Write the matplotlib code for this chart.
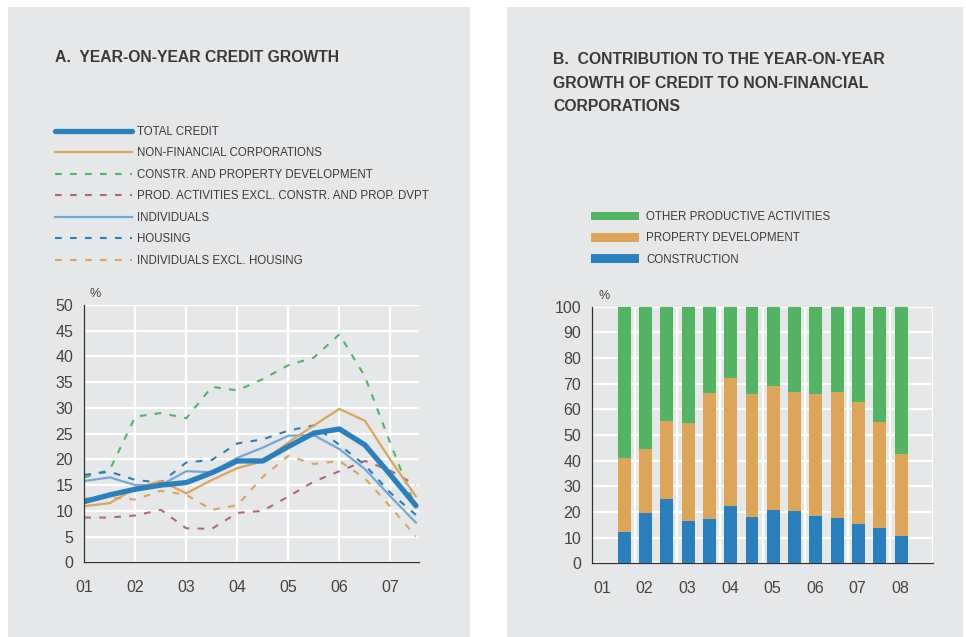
import matplotlib.pyplot as plt
from matplotlib.patches import Rectangle

# ---- data ----
# panel A: half-yearly observations, 2001 to mid 2007
periods_a = [2001.0, 2001.5, 2002.0, 2002.5, 2003.0, 2003.5, 2004.0,
             2004.5, 2005.0, 2005.5, 2006.0, 2006.5, 2007.0, 2007.5]
total_credit = [11.8, 13.1, 14.2, 15.0, 15.5, 17.4, 19.7, 19.7, 22.5, 25.1, 25.9, 22.8, 17.0, 11.0]
non_fin_corp = [10.9, 11.5, 14.4, 15.8, 13.4, 16.0, 18.3, 19.6, 23.3, 26.6, 29.8, 27.5, 19.9, 12.8]
constr_prop = [16.5, 18.0, 28.3, 29.0, 28.0, 34.1, 33.4, 35.6, 38.3, 39.8, 44.3, 36.1, 23.1, 10.5]
prod_activities = [8.7, 8.7, 9.1, 10.2, 6.6, 6.5, 9.6, 10.0, 12.8, 15.7, 17.7, 19.7, 17.8, 15.0]
individuals = [15.8, 16.5, 15.0, 15.0, 17.7, 17.5, 20.3, 22.3, 24.6, 24.7, 22.0, 18.1, 12.8, 7.7]
housing = [17.0, 17.6, 16.0, 15.5, 19.4, 19.9, 23.1, 23.9, 25.6, 26.6, 22.8, 18.9, 13.5, 9.2]
indiv_excl_housing = [12.4, 12.6, 12.2, 13.9, 13.1, 10.2, 11.1, 16.6, 20.7, 19.1, 19.7, 16.3, 10.8, 5.0]
ticks_a = ["01", "02", "03", "04", "05", "06", "07"]

# panel B: contributions (%), Dec 2001 to Jun 2008
periods_b = [2001.5, 2002.0, 2002.5, 2003.0, 2003.5, 2004.0, 2004.5,
             2005.0, 2005.5, 2006.0, 2006.5, 2007.0, 2007.5, 2008.0]
construction = [12.1, 19.5, 25.1, 16.5, 17.3, 22.3, 18.1, 20.8, 20.4, 18.4, 17.7, 15.3, 13.8, 10.6]
property_dev = [28.8, 24.9, 30.4, 38.0, 48.9, 50.0, 47.9, 48.3, 46.4, 47.6, 49.1, 47.6, 41.1, 32.0]
other_prod = [59.1, 55.6, 44.5, 45.5, 33.8, 27.7, 34.0, 30.9, 33.2, 34.0, 33.2, 37.1, 45.1, 57.4]
ticks_b = ["01", "02", "03", "04", "05", "06", "07", "08"]

BG = "#e6e7e9"
TXT = "#3a3a3a"
BLUE = "#2a7fbd"
ORANGE = "#dca558"
GREEN = "#53b463"
MAUVE = "#b06879"
LBLUE = "#72a8d8"

plt.rcParams['font.family'] = ['Liberation Sans', 'DejaVu Sans']
plt.rcParams['text.color'] = TXT

fig = plt.figure(figsize=(9.66, 6.37), dpi=100)
W, H = 966, 637

# grey panel backgrounds
fig.patches.append(Rectangle((8 / W, 0), 462 / W, 1 - 7 / H, transform=fig.transFigure,
                             facecolor=BG, edgecolor="none", zorder=-10))
fig.patches.append(Rectangle((507 / W, 0), 456 / W, 1 - 7 / H, transform=fig.transFigure,
                             facecolor=BG, edgecolor="none", zorder=-10))


def style_axes(ax):
    ax.set_facecolor(BG)
    for s in ["top", "right"]:
        ax.spines[s].set_visible(False)
    for s in ["left", "bottom"]:
        ax.spines[s].set_color("#333333")
        ax.spines[s].set_linewidth(0.9)
    ax.grid(True, color="white", linewidth=1.6)
    ax.set_axisbelow(True)
    ax.tick_params(length=0, labelsize=11.5, labelcolor="#444444")
    ax.tick_params(axis="y", pad=8)
    ax.tick_params(axis="x", which="both", length=0, labelsize=11.5, pad=13)


# ---- panel A ----
axA = fig.add_axes([84.3 / W, 1 - 562.3 / H, 334.7 / W, 257.3 / H])
style_axes(axA)
xa = [p - 2001 for p in periods_a]
dash = (3.2, 4)
axA.plot(xa, indiv_excl_housing, color=ORANGE, lw=1.5, dashes=dash, label="INDIVIDUALS EXCL. HOUSING")
axA.plot(xa, prod_activities, color=MAUVE, lw=1.5, dashes=dash, label="PROD. ACTIVITIES EXCL. CONSTR. AND PROP. DVPT")
axA.plot(xa, constr_prop, color=GREEN, lw=1.5, dashes=dash, label="CONSTR. AND PROPERTY DEVELOPMENT")
axA.plot(xa, housing, color=BLUE, lw=1.5, dashes=dash, label="HOUSING")
axA.plot(xa, individuals, color=LBLUE, lw=1.6, label="INDIVIDUALS")
axA.plot(xa, non_fin_corp, color=ORANGE, lw=1.6, label="NON-FINANCIAL CORPORATIONS")
axA.plot(xa, total_credit, color=BLUE, lw=3.8, solid_capstyle="round", label="TOTAL CREDIT")
axA.set_xlim(0, 6.56)
axA.set_ylim(0, 50)
axA.set_yticks(range(0, 51, 5))
axA.set_xticks(range(len(ticks_a)))
axA.set_xticklabels(ticks_a)
axA.text(0.1, 51.5, "%", fontsize=9, color="#444444")

hA, lA = axA.get_legend_handles_labels()
order = ["TOTAL CREDIT", "NON-FINANCIAL CORPORATIONS", "CONSTR. AND PROPERTY DEVELOPMENT",
         "PROD. ACTIVITIES EXCL. CONSTR. AND PROP. DVPT", "INDIVIDUALS", "HOUSING",
         "INDIVIDUALS EXCL. HOUSING"]
hA = [hA[lA.index(o)] for o in order]
fig.legend(hA, order, loc="upper left", bbox_to_anchor=(55 / W, 1 - 126 / H),
           frameon=False, fontsize=8.3, handlelength=6.7, handletextpad=0.45,
           labelspacing=0.82, borderpad=0, borderaxespad=0, labelcolor=TXT)

fig.text(55 / W, 1 - 58 / H, "A.  YEAR-ON-YEAR CREDIT GROWTH", fontsize=11.3,
         fontweight="bold", va="center", ha="left")

# ---- panel B ----
axB = fig.add_axes([592.3 / W, 1 - 563.3 / H, 340.7 / W, 256.6 / H])
style_axes(axB)
xb = [p - 2001 + 0.25 for p in periods_b]
bw = 0.305
bottom2 = [c + p for c, p in zip(construction, property_dev)]
axB.bar(xb, construction, width=bw, color=BLUE, label="CONSTRUCTION", zorder=3)
axB.bar(xb, property_dev, width=bw, bottom=construction, color=ORANGE,
        label="PROPERTY DEVELOPMENT", zorder=3)
axB.bar(xb, other_prod, width=bw, bottom=bottom2, color=GREEN,
        label="OTHER PRODUCTIVE ACTIVITIES", zorder=3)
axB.set_xlim(0, 8)
axB.set_ylim(0, 100)
axB.set_yticks(range(0, 101, 10))
axB.set_xticks(range(1, 9), minor=False)
axB.set_xticklabels([])
axB.set_xticks([k + 0.23 for k in range(len(ticks_b))], minor=True)
axB.set_xticklabels(ticks_b, minor=True)
axB.tick_params(axis="x", which="both", length=0, labelsize=11.5, labelcolor="#444444", pad=13)
axB.xaxis.grid(True, which="major", color="white", linewidth=1.6)
axB.text(0.15, 103, "%", fontsize=9, color="#444444")

hB, lB = axB.get_legend_handles_labels()
fig.legend(hB[::-1], lB[::-1], loc="upper left", bbox_to_anchor=(591 / W, 1 - 211 / H),
           frameon=False, fontsize=8.3, handlelength=4.2, handleheight=0.8, handletextpad=0.6,
           labelspacing=0.82, borderpad=0, borderaxespad=0, labelcolor=TXT)

fig.text(553 / W, 1 - 52 / H, "B.  CONTRIBUTION TO THE YEAR-ON-YEAR\nGROWTH OF CREDIT TO NON-FINANCIAL\nCORPORATIONS",
         fontsize=11.3, fontweight="bold", va="top", ha="left", linespacing=1.72,
         transform=fig.transFigure)

fig.savefig("out.png", dpi=100, facecolor="white")
